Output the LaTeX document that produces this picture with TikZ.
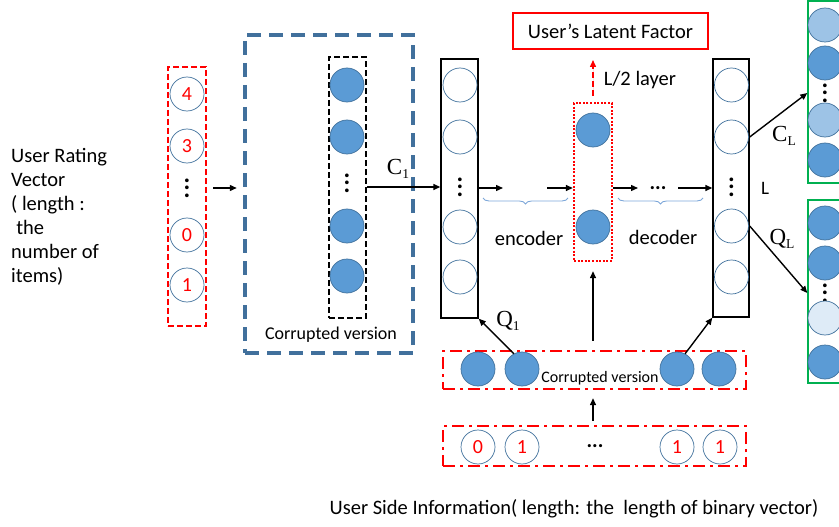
\documentclass[tikz,border=0pt]{standalone}
\usepackage{fontspec}
\setmainfont{Carlito}
\newfontfamily\serifsym{Liberation Serif}
\usetikzlibrary{arrows.meta,decorations.pathreplacing}

\definecolor{nodeblue}{HTML}{5B9BD5}
\definecolor{edgeblue}{HTML}{41719C}
\definecolor{paleblue}{HTML}{9DC3E6}
\definecolor{faintblue}{HTML}{DEEBF7}
\definecolor{boxgreen}{HTML}{00B050}
\definecolor{bracecol}{HTML}{7DA7D9}
\definecolor{frameblue}{HTML}{41709C}

% three stacked dots used inside the layer columns
\newcommand\stackdots{\vbox{\baselineskip=7.5pt\lineskiplimit=-10pt
  \hbox{\textbf{.}}\hbox{\textbf{.}}\hbox{\textbf{.}}}}
% serif symbol with a subscript, e.g. C_1
\newcommand\symsub[2]{{\serifsym\fontsize{23}{23}\selectfont #1\raisebox{-0.45ex}{\fontsize{13.5}{13.5}\selectfont #2}}}

\tikzset{
  unit/.style={circle, draw=edgeblue, line width=0.7pt, minimum size=34pt, inner sep=0pt},
  fullunit/.style={unit, fill=nodeblue},
  paleunit/.style={unit, fill=paleblue},
  faintunit/.style={unit, fill=faintblue},
  valunit/.style={unit, text=red, font=\fontsize{20}{20}\selectfont},
  vdotsnode/.style={inner sep=0pt, font=\fontsize{25}{25}\selectfont},
  layerbox/.style={draw=black, line width=1.4pt, inner sep=0pt},
  outbox/.style={draw=boxgreen, line width=1.4pt, inner sep=0pt},
  arr/.style={-{Triangle[length=7pt,width=6pt]}, line width=1.4pt},
  lbl/.style={font=\fontsize{20.5}{24}\selectfont, inner sep=0pt},
  sidebox/.style={draw=red, line width=2.4pt, inner sep=0pt,
    dash pattern=on 12pt off 5pt on 3pt off 5pt},
  brc/.style={draw=bracecol, line width=0.9pt,
    decorate, decoration={brace, mirror, amplitude=6pt}},
}

\begin{document}
\begin{tikzpicture}[x=1pt, y=-1pt]
\useasboundingbox (0,0) rectangle (839,527);

% ---------------- input rating vector ----------------
\node[lbl, anchor=west, align=left, font=\fontsize{20.5}{24}\selectfont] (ratinglbl) at (11,217)
  {User Rating\\Vector\\( length :\\\hspace*{0.25em}the\\number of\\items)};
\node[draw=red, line width=2.4pt, dash pattern=on 6pt off 3pt, minimum width=38pt,
  minimum height=259pt, inner sep=0pt] (ratingbox) at (187,196.5) {};
\node[valunit] (r1) at (187,94) {4};
\node[valunit] (r2) at (187,146) {3};
\node[vdotsnode] (rdots) at (187,188) {\stackdots};
\node[valunit] (r3) at (187,235) {0};
\node[valunit] (r4) at (187,285) {1};

% ---------------- corrupted rating vector ----------------
\node[draw=frameblue, line width=4.5pt, dash pattern=on 14pt off 8pt, minimum width=168pt,
  minimum height=318pt, inner sep=0pt] (noisebox) at (329,194) {};
\node[draw=black, line width=2pt, dash pattern=on 6pt off 3pt, minimum width=37pt,
  minimum height=261pt, inner sep=0pt] (noisecol) at (347.5,187.5) {};
\node[fullunit] (n1) at (347,85) {};
\node[fullunit] (n2) at (347,137) {};
\node[vdotsnode] (ndots) at (347,183) {\stackdots};
\node[fullunit] (n3) at (347,226) {};
\node[fullunit] (n4) at (347,276) {};
\node[font=\fontsize{18}{18}\selectfont, inner sep=0pt] (noiselbl) at (331,335) {Corrupted version};

\draw[arr, shorten <=6pt, shorten >=6pt] (ratingbox.east |- rdots) -- (noisebox.west |- rdots);

% ---------------- first hidden layer ----------------
\node[layerbox, minimum width=37pt, minimum height=259pt] (col1) at (459.5,188.5) {};
\node[unit] (a1) at (460,85) {};
\node[unit] (a2) at (460,137) {};
\node[vdotsnode] (adots) at (460,187) {\stackdots};
\node[unit] (a3) at (460,227) {};
\node[unit] (a4) at (460,277) {};

\draw[arr] (noisecol.east |- adots) -- (col1.west |- adots);
\node (c1lbl) at (398,169) {\symsub{C}{1}};

% ---------------- middle (L/2) layer ----------------
\node[draw=red, line width=2.4pt, dash pattern=on 2pt off 1.6pt, minimum width=38pt,
  minimum height=158pt, inner sep=0pt] (midbox) at (593,182) {};
\node[fullunit] (m1) at (593,130) {};
\node[fullunit] (m2) at (593,227) {};

\coordinate (enca) at (503,188);
\coordinate (encb) at (547,188);
\draw[arr] (col1.east |- enca) -- (enca);
\draw[arr] (encb) -- (midbox.west |- encb);
\draw[brc] (483,198) -- (568,198);
\node[lbl] (enclbl) at (529,238) {encoder};

\node[draw=red, line width=2pt, minimum width=195pt, minimum height=36pt] (latent) at (610.5,31)
  {\fontsize{20.5}{20.5}\selectfont User’s Latent Factor};
\coordinate (latenttip) at (593,60);
\draw[arr, draw=red, fill=red, dash pattern=on 6pt off 3pt, shorten <=6pt] (midbox.north) -- (latenttip);
\node[lbl] (halflbl) at (640,80) {L/2 layer};

% ---------------- last layer ----------------
\node[layerbox, minimum width=36pt, minimum height=258pt] (col2) at (731,188) {};
\node[unit] (b1) at (731.5,85) {};
\node[unit] (b2) at (731.5,137) {};
\node[vdotsnode] (bdots) at (731.5,187) {\stackdots};
\node[unit] (b3) at (731.5,226) {};
\node[unit] (b4) at (731.5,277) {};
\node[lbl, font=\fontsize{19}{19}\selectfont] (llbl) at (765,188) {L};

\coordinate (deca) at (638,188);
\coordinate (decb) at (678,188);
\draw[arr] (midbox.east |- deca) -- (deca);
\node[lbl, font=\fontsize{21}{21}\bfseries] (decdots) at (658,188) {...};
\draw[arr] (decb) -- (col2.west |- decb);
\draw[brc] (618,198) -- (703,198);
\node[lbl] (declbl) at (663,237) {decoder};

% ---------------- reconstructed outputs ----------------
\node[outbox, minimum width=37pt, minimum height=182pt] (cbox) at (826.5,92) {};
\node[paleunit] (c1) at (825,25) {};
\node[fullunit] (c2) at (825,63) {};
\node[vdotsnode] (cdots) at (825,93) {\stackdots};
\node[paleunit] (c3) at (825,120) {};
\node[fullunit] (c4) at (825,160) {};

\node[outbox, minimum width=37pt, minimum height=183pt] (qbox) at (826.5,291.5) {};
\node[fullunit] (q1) at (825,223) {};
\node[fullunit] (q2) at (825,263) {};
\node[vdotsnode] (qdots) at (825,293) {\stackdots};
\node[faintunit] (q3) at (825,318) {};
\node[fullunit] (q4) at (825,362) {};

\draw[arr] (col2.east |- b2) -- (cbox.west |- cdots);
\draw[arr] (col2.east |- b3) -- (qbox.west |- qdots);
\node (cllbl) at (784,136) {\symsub{C}{L}};
\node (qllbl) at (782,239) {\symsub{Q}{L}};

% ---------------- user side information ----------------
\node[sidebox, minimum width=303pt, minimum height=38pt] (side1) at (594.5,370) {};
\node[fullunit] (s1) at (478,369) {};
\node[fullunit] (s2) at (522,369) {};
\node[fullunit] (s3) at (677,369) {};
\node[fullunit] (s4) at (719,369) {};
\node[font=\fontsize{16}{16}\selectfont, inner sep=0pt] (sidelbl) at (600,378) {Corrupted version};

\node[sidebox, minimum width=303pt, minimum height=40pt] (side2) at (594.5,446) {};
\node[valunit] (v1) at (478,447) {0};
\node[valunit] (v2) at (522,447) {1};
\node[lbl, font=\fontsize{21}{21}\bfseries] (vdots) at (595,446) {...};
\node[valunit] (v3) at (677,447) {1};
\node[valunit] (v4) at (720,447) {1};

\draw[arr, shorten <=4pt, shorten >=8pt] (midbox.south |- side2.north) -- (midbox.south |- side1.south);
\draw[arr, shorten <=9pt, shorten >=9pt] (midbox.south |- side1.north) -- (midbox.south);
\draw[arr] (s2.118) -- (col1.south east);
\draw[arr] (s3.62) -- (col2.south west);
\node (q1lbl) at (508,321) {\symsub{Q}{1}};

\node[lbl] (sidecaption) at (574,509) {User Side Information( length: the\ \ length of binary vector)};
\end{tikzpicture}
\end{document}
